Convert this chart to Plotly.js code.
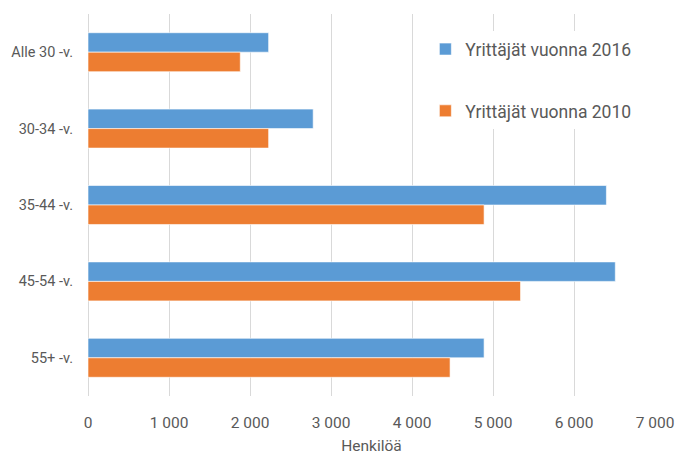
<!DOCTYPE html>
<html>
<head>
<meta charset="utf-8">
<script src="https://cdn.plot.ly/plotly-3.0.1.min.js"></script>
<style>html,body{margin:0;padding:0;background:#fff;}#chart{width:677px;height:455px;}</style>
</head>
<body>
<div id="chart"></div>
<script>
const categories = ["Alle 30 -v.", "30-34 -v.", "35-44 -v.", "45-54 -v.", "55+ -v."];
const values2016 = [2230, 2780, 6400, 6510, 4890];
const values2010 = [1880, 2230, 4890, 5340, 4470];
const seriesNames = ["Yrittäjät vuonna 2016", "Yrittäjät vuonna 2010"];
const xTitle = "Henkilöä";

const FONT = "Roboto, 'Liberation Sans Narrow', sans-serif";
const traces = [
  {type: "bar", orientation: "h", name: seriesNames[0], y: categories, x: values2016,
   legendgroup: "a",
   marker: {color: "#5B9BD5", line: {color: "rgba(255,255,255,0.6)", width: 1}}},
  {type: "bar", orientation: "h", name: seriesNames[1], y: categories, x: values2010,
   legendgroup: "b",
   marker: {color: "#ED7D31", line: {color: "rgba(255,255,255,0.6)", width: 1}}}
];
const layout = {
  width: 677, height: 455,
  margin: {l: 88, r: 22, t: 14, b: 59},
  paper_bgcolor: "#fff", plot_bgcolor: "#fff",
  font: {family: FONT, color: "#595959", size: 13},
  separators: ", ",
  barmode: "group", bargap: 0.49, bargroupgap: 0,
  showlegend: true,
  legend: {x: 0.595, y: 0.955, xanchor: "left", yanchor: "top", bgcolor: "#fff",
           font: {size: 17.5, color: "#595959", family: FONT}, tracegroupgap: 36,
           traceorder: "grouped"},
  xaxis: {range: [0, 7000], dtick: 1000, tick0: 0, showgrid: true, gridcolor: "#d9d9d9", gridwidth: 1,
          zeroline: true, zerolinecolor: "#d9d9d9", zerolinewidth: 1, showline: false,
          separatethousands: true, ticks: "", ticklabelstandoff: 15,
          tickfont: {size: 15.5, color: "#595959"}, fixedrange: true,
          title: {text: xTitle, font: {size: 15.5, color: "#595959"}, standoff: 9}},
  yaxis: {autorange: "reversed", type: "category", showgrid: false, zeroline: false, showline: false,
          ticks: "", ticklabelstandoff: 14, tickfont: {size: 14.5, color: "#595959"}, fixedrange: true}
};
Plotly.newPlot("chart", traces, layout, {displayModeBar: false, staticPlot: true});
</script>
</body>
</html>
